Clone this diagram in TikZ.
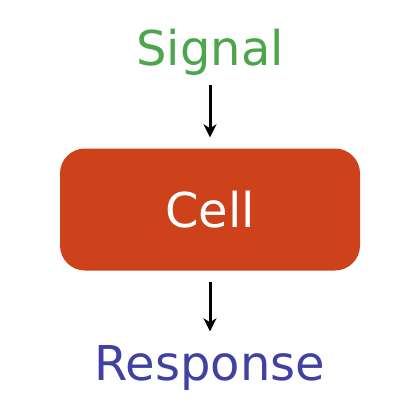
\documentclass[tikz,border=0pt]{standalone}
\usepackage{fontspec}
\setmainfont{DejaVu Sans}
\usetikzlibrary{arrows.meta}
\definecolor{signalgreen}{RGB}{76,166,76}
\definecolor{cellred}{RGB}{205,65,27}
\definecolor{respblue}{RGB}{65,65,163}

\begin{document}
\begin{tikzpicture}[x=1pt, y=-1pt,
  textlabel/.style={inner sep=0pt, anchor=base, font=\fontsize{48}{52}\selectfont},
  flow/.style={-{Stealth[length=13pt, width=13pt, inset=4pt]}, line width=3pt}]
\useasboundingbox (0,0) rectangle (420,420);

% Nodes
\node[textlabel, text=signalgreen] (signal) at (210,66) {Signal};
\node[fill=cellred, rounded corners=25pt, minimum width=300pt, minimum height=122pt,
  inner sep=0pt, text=white, font=\fontsize{48}{52}\selectfont] (cell) at (210,209.5) {Cell};
\node[textlabel, text=respblue] (response) at (210,380) {Response};

% Arrows
\draw[flow, shorten <=9pt, shorten >=11pt] (signal) -- (cell);
\draw[flow, shorten <=11pt, shorten >=13.5pt] (cell) -- (response);
\end{tikzpicture}
\end{document}
